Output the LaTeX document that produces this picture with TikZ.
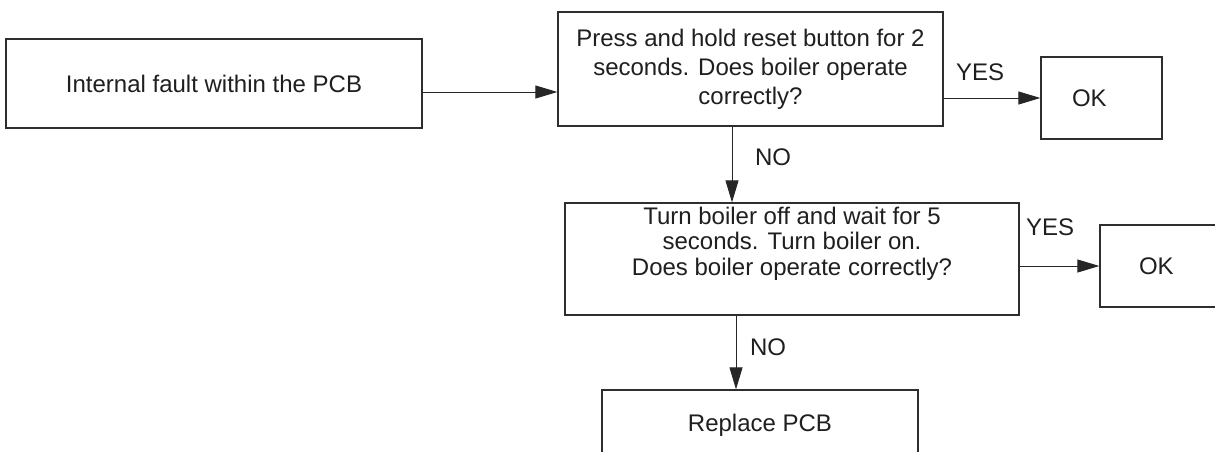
\documentclass[tikz,border=0pt]{standalone}
\usepackage{fontspec}
\setmainfont{Liberation Sans}
\usetikzlibrary{arrows.meta}

\begin{document}
\begin{tikzpicture}[x=1pt,y=-1pt,
  box/.style={draw=black!82,line width=1.3pt,align=center,fill=white,inner sep=2pt,text=black!88,font=\fontsize{24}{29}\selectfont},
  okbox/.style={box,align=left,minimum height=82pt},
  answer/.style={inner sep=0pt,text=black!88,font=\fontsize{24}{29}\selectfont},
  arrow/.style={-{Triangle[length=22pt,width=13pt]},line width=0.9pt,draw=black!85}
]
\clip (0,0) rectangle (1215,451);

\node[box,minimum width=416pt,minimum height=89pt] (fault) at (214,83.5) {Internal fault within the PCB};
\node[box,minimum width=385pt,minimum height=114pt] (press) at (750.5,69) {Press and hold reset button for 2\\seconds. Does boiler operate\\correctly?};
\node[okbox,inner xsep=31pt,text width=59pt] (ok1) at (1101.5,98) {OK};
\node[box,minimum width=454pt,minimum height=112pt,text depth=36pt,font=\fontsize{24}{25.5}\selectfont] (check) at (792,259) {Turn boiler off and wait for 5\\seconds. Turn boiler on.\\Does boiler operate correctly?};
\node[okbox,inner xsep=39pt,text width=42pt] (ok2) at (1160,266) {OK};
\node[box,minimum width=316pt,minimum height=70pt] (replace) at (760,425) {Replace PCB};

\node[answer] (yes1) at (980,72) {YES};
\node[answer] (no1) at (773,157) {NO};
\node[answer] (yes2) at (1050,227) {YES};
\node[answer] (no2) at (768,347) {NO};

\draw[arrow] ([yshift=-8.5pt]fault.east) -- ([yshift=-8.5pt]fault.east -| press.west);
\draw[arrow] (press.east |- ok1.west) -- (ok1.west);
\draw[arrow] ([xshift=-18.5pt]press.south) -- ([xshift=-18.5pt]press.south |- check.north);
\draw[arrow] (check.east |- ok2.west) -- (ok2.west);
\draw[arrow] ([xshift=-24pt]replace.north |- check.south) -- ([xshift=-24pt]replace.north);
\end{tikzpicture}
\end{document}
